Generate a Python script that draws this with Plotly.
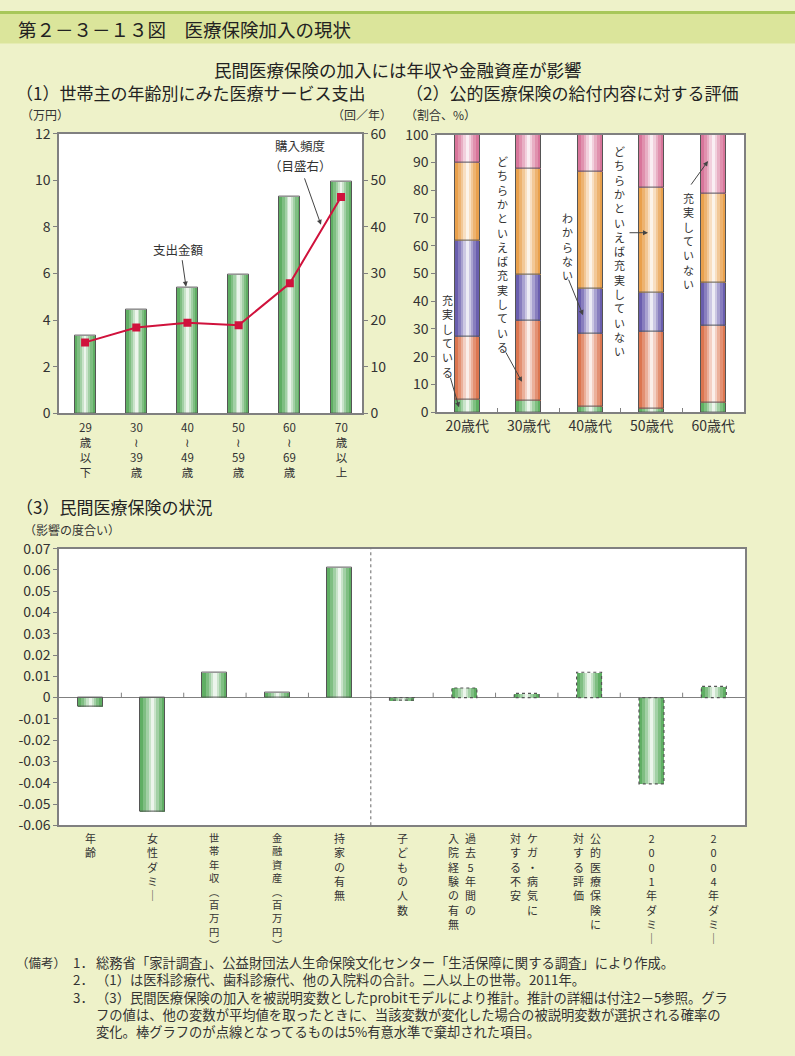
import plotly.graph_objects as go

W, H = 795, 1056
def PX(x): return x / W
def PY(y): return 1 - y / H

FONT = "Noto Sans CJK JP"
BG = "#eef2c9"
AXC = "#808080"
TXT = "#333333"

# ---------------- data ----------------
# (1) 世帯主の年齢別にみた医療サービス支出
age_labels = [["29", "歳", "以", "下"], ["30", "≀", "39", "歳"], ["40", "≀", "49", "歳"],
              ["50", "≀", "59", "歳"], ["60", "≀", "69", "歳"], ["70", "歳", "以", "上"]]
spending = [3.32, 4.46, 5.40, 5.96, 9.30, 9.95]          # 万円
frequency = [15.2, 18.4, 19.4, 18.9, 27.9, 46.4]         # 回／年

# (2) 公的医療保険の給付内容に対する評価
gen_labels = ["20歳代", "30歳代", "40歳代", "50歳代", "60歳代"]
eval_names = ["充実している", "どちらかといえば充実している", "わからない",
              "どちらかといえば充実していない", "充実していない"]
juujitsu = [4.7, 4.2, 2.1, 1.2, 3.5]
yaya_juujitsu = [22.4, 28.7, 26.4, 28.0, 27.7]
wakaranai = [34.8, 16.6, 16.1, 14.0, 15.5]
yaya_fujuujitsu = [28.0, 38.4, 42.2, 37.6, 32.2]
fujuujitsu = [10.1, 12.1, 13.2, 19.2, 21.1]
eval_colors = ["#5fb062", "#dc7650", "#6a5eae", "#e9a04c", "#d8759a"]

# (3) 民間医療保険の状況
factor_labels = [["年齢"], ["女性ダミ｜"], ["世帯年収︵百万円︶"], ["金融資産︵百万円︶"],
                 ["持家の有無"], ["子どもの人数"], ["過去5年間の", "入院経験の有無"],
                 ["ケガ・病気に", "対する不安"], ["公的医療保険に", "対する評価"],
                 ["2001年ダミ｜"], ["2004年ダミ｜"]]
effect = [-0.0042, -0.0535, 0.0119, 0.0022, 0.0610, -0.0012, 0.0045, 0.0020, 0.0119, -0.0405, 0.0053]
significant = [True, True, True, True, True, False, False, False, False, False, False]
y3_ticks = [-0.06, -0.05, -0.04, -0.03, -0.02, -0.01, 0, 0.01, 0.02, 0.03, 0.04, 0.05, 0.06, 0.07]

note_head = "（備考）"
note_nums = ["1．", "2．", "3．"]
note_lines = [
    "総務省「家計調査」、公益財団法人生命保険文化センター「生活保障に関する調査」により作成。",
    "（1）は医科診療代、歯科診療代、他の入院料の合計。二人以上の世帯。2011年。",
    "（3）民間医療保険の加入を被説明変数としたprobitモデルにより推計。推計の詳細は付注2－5参照。グラ",
    "フの値は、他の変数が平均値を取ったときに、当該変数が変化した場合の被説明変数が選択される確率の",
    "変化。棒グラフのが点線となってるものは5%有意水準で棄却された項目。",
]

# ---------------- helpers ----------------
def lerp(c, t):
    r, g, b = int(c[1:3], 16), int(c[3:5], 16), int(c[5:7], 16)
    return f"rgb({r + (255 - r) * t:.0f},{g + (255 - g) * t:.0f},{b + (255 - b) * t:.0f})"

LAYERS = [(1.0, 0.0), (0.74, 0.2), (0.5, 0.42), (0.3, 0.66), (0.13, 0.88)]

def grad_bars(fig, x, y, base, width, color, xa, ya, outline=True):
    for frac, t in LAYERS:
        fig.add_trace(go.Bar(x=x, y=y, base=base, width=width * frac,
                             marker=dict(color=lerp(color, t), line=dict(width=0)),
                             xaxis=xa, yaxis=ya, showlegend=False, hoverinfo="skip"))
    if outline:
        fig.add_trace(go.Bar(x=x, y=y, base=base, width=width,
                             marker=dict(color="rgba(0,0,0,0)", line=dict(color="#555555", width=1)),
                             xaxis=xa, yaxis=ya, showlegend=False, hoverinfo="skip"))

fig = go.Figure()

# ---------------- chart (1) ----------------
x1 = list(range(len(spending)))
grad_bars(fig, x1, spending, [0] * len(spending), 0.41, "#5fae63", "x", "y")
fig.add_trace(go.Scatter(x=x1, y=frequency, mode="lines+markers", xaxis="x", yaxis="y2",
                         line=dict(color="#d0123c", width=2),
                         marker=dict(symbol="square", size=8, color="#d0123c"),
                         showlegend=False, hoverinfo="skip"))

# ---------------- chart (2) ----------------
x2 = list(range(len(gen_labels)))
series2 = [juujitsu, yaya_juujitsu, wakaranai, yaya_fujuujitsu, fujuujitsu]
cum = [0.0] * len(gen_labels)
for vals, col in zip(series2, eval_colors):
    grad_bars(fig, x2, vals, list(cum), 0.41, col, "x2", "y3")
    cum = [c + v for c, v in zip(cum, vals)]

# ---------------- chart (3) ----------------
x3 = list(range(len(effect)))
w3 = 0.4
sig_x = [x for x, s in zip(x3, significant) if s]
sig_y = [v for v, s in zip(effect, significant) if s]
ns_x = [x for x, s in zip(x3, significant) if not s]
ns_y = [v for v, s in zip(effect, significant) if not s]
grad_bars(fig, sig_x, sig_y, [0] * len(sig_x), w3, "#5fae63", "x3", "y4", outline=True)
grad_bars(fig, ns_x, ns_y, [0] * len(ns_x), w3, "#5fae63", "x3", "y4", outline=False)
ox, oy = [], []
for x, v in zip(ns_x, ns_y):
    ox += [x - w3 / 2, x - w3 / 2, x + w3 / 2, x + w3 / 2, x - w3 / 2, None]
    oy += [0, v, v, 0, 0, None]
fig.add_trace(go.Scatter(x=ox, y=oy, mode="lines", xaxis="x3", yaxis="y4",
                         line=dict(color="#555555", width=1.2, dash="dot"),
                         showlegend=False, hoverinfo="skip"))

# ---------------- axes ----------------
axis_common = dict(showline=True, linecolor=AXC, linewidth=1.5, showgrid=False, zeroline=False,
                   tickfont=dict(family=FONT, size=14, color=TXT), tickcolor=AXC)

fig.update_layout(
    xaxis=dict(axis_common, domain=[PX(59), PX(362)], anchor="y", range=[-0.51, 5.41],
               showticklabels=False, ticks="", mirror=True),
    yaxis=dict(axis_common, domain=[PY(410), PY(125)], anchor="x", range=[0, 12], dtick=2,
               ticks="outside", ticklen=4),
    yaxis2=dict(axis_common, overlaying="y", side="right", anchor="x", range=[0, 60], dtick=10,
                ticks="outside", ticklen=4),
    xaxis2=dict(axis_common, domain=[PX(437), PX(744)], anchor="y3", range=[-0.49, 4.5],
                tickvals=x2, ticktext=gen_labels, ticks="", mirror=True,
                minor=dict(tickvals=[0.5, 1.5, 2.5, 3.5], ticks="inside", ticklen=5,
                           tickcolor=AXC, tickwidth=1)),
    yaxis3=dict(axis_common, domain=[PY(409), PY(126)], anchor="x2", range=[0, 100], dtick=10,
                ticks="outside", ticklen=4, mirror=True),
    xaxis3=dict(axis_common, domain=[PX(59), PX(745)], anchor="y4", range=[-0.5, 10.5],
                showticklabels=False, ticks="", mirror=True),
    yaxis4=dict(axis_common, domain=[PY(830), PY(548)], anchor="x3", range=[-0.06, 0.07],
                tickvals=y3_ticks, ticktext=[("0" if v == 0 else f"{v:.2f}") for v in y3_ticks],
                ticks="outside", ticklen=4, mirror=True,
                zeroline=True, zerolinecolor=AXC, zerolinewidth=1),
)

shapes = [
    dict(type="rect", xref="paper", yref="paper", x0=0, x1=1, y0=PY(33), y1=1,
         fillcolor="#dbe59b", line=dict(width=0), layer="below"),
    dict(type="rect", xref="paper", yref="paper", x0=0, x1=1, y0=PY(3), y1=1,
         fillcolor="#a8c75a", line=dict(width=0), layer="below"),
    dict(type="line", xref="x3", yref="y4", x0=4.5, x1=4.5, y0=-0.06, y1=0.07,
         line=dict(color="#666666", width=1, dash="dot")),
]
for i in range(len(effect) - 1):
    shapes.append(dict(type="line", xref="x3", yref="y4", x0=i + 0.5, x1=i + 0.5, y0=0, y1=0.0023,
                       line=dict(color=AXC, width=1)))

ann = []
def text(x, y, s, size=13, xanchor="center", yanchor="middle", color=TXT, align="center"):
    ann.append(dict(x=PX(x), y=PY(y), xref="paper", yref="paper", text=s, showarrow=False,
                    xanchor=xanchor, yanchor=yanchor, align=align,
                    font=dict(family=FONT, size=size, color=color)))

def arrow(tx, ty, hx, hy):
    ann.append(dict(x=PX(hx), y=PY(hy), xref="paper", yref="paper", text="", showarrow=True,
                    ax=tx - hx, ay=ty - hy, arrowhead=2, arrowsize=1, arrowwidth=1,
                    arrowcolor="#444444"))

def vcol(cx, top, tokens, size=11):
    # vertical column of characters, one per line
    text(cx, top, "<br>".join(tokens), size=size, yanchor="top")

# titles
text(16, 18, "第２－３－１３図　医療保険加入の現状", size=18.5, xanchor="left", color="#222222")
text(398, 60, "民間医療保険の加入には年収や金融資産が影響", size=17.5, color="#222222")
text(14, 83, "（1）世帯主の年齢別にみた医療サービス支出", size=17, xanchor="left", color="#222222")
text(404, 83, "（2）公的医療保険の給付内容に対する評価", size=17, xanchor="left", color="#222222")
text(14, 505, "（3）民間医療保険の状況", size=17, xanchor="left", color="#222222")

# axis titles
text(45, 106, "（万円）", size=12)
text(362, 106, "（回／年）", size=12)
text(440, 106, "（割合、%）", size=12)
text(72, 529, "（影響の度合い）", size=12)

# chart (1) category labels (stacked)
x1_left, x1_right, x1_lo, x1_hi = 59, 362, -0.51, 5.41
for i, toks in enumerate(age_labels):
    cx = x1_left + (i - x1_lo) / (x1_hi - x1_lo) * (x1_right - x1_left)
    vcol(cx, 414, toks, size=11.5)

# chart (1) callouts
text(178, 243, "支出金額", size=12.5)
arrow(182, 253, 186, 281)
text(300, 137, "購入頻度", size=12.5)
text(300, 157, "（目盛右）", size=12.5)
arrow(304, 170, 321, 218)

# chart (2) callouts
vcol(447, 284, list(eval_names[0]))
arrow(450, 373, 459, 404)
vcol(502, 143, list(eval_names[1]))
arrow(505, 347, 522, 378)
vcol(567, 201, list(eval_names[2]))
arrow(568, 273, 583, 310)
vcol(619, 133, list(eval_names[3]))
arrow(628, 226, 648, 226)
vcol(688, 180, list(eval_names[4]))
arrow(690, 178, 708, 153)

# chart (3) category labels (vertical)
x3_left, x3_right = 59, 745
step = (x3_right - x3_left) / len(effect)
for i, cols in enumerate(factor_labels):
    cx = x3_left + step * (i + 0.5)
    for j, col in enumerate(cols):
        off = 0 if len(cols) == 1 else (6 if j == 0 else -11)
        sz = 11 if len(col) < 9 else 10.3
        vcol(cx + off, 833, list(col), size=sz)

# notes (three aligned columns)
NOTE_SIZE = 13.3
note_top = 958
text(14, note_top, note_head, size=12.5, xanchor="left", yanchor="top")
text(71, note_top, "<br>".join(note_nums), size=NOTE_SIZE, xanchor="left", yanchor="top", align="left")
text(94, note_top, "<br>".join(note_lines), size=NOTE_SIZE, xanchor="left", yanchor="top", align="left")

fig.update_layout(
    width=W, height=H, margin=dict(l=0, r=0, t=0, b=0),
    paper_bgcolor=BG, plot_bgcolor="white", barmode="overlay", bargap=0,
    showlegend=False, shapes=shapes, annotations=ann,
    font=dict(family=FONT, color=TXT),
)

fig.write_html("out.html", config={"displayModeBar": False},
               post_script="document.body.style.margin='0';document.body.style.background='" + BG + "';")
